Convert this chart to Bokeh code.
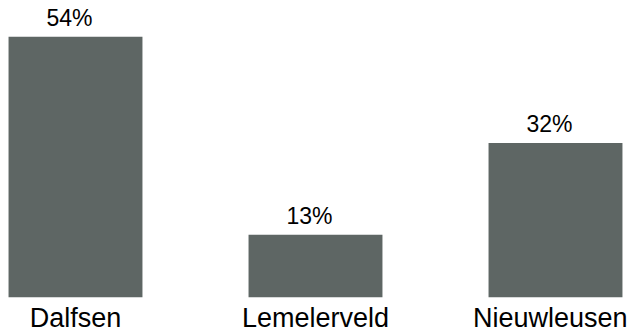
from bokeh.plotting import figure
from bokeh.models import ColumnDataSource, Range1d, LinearAxis, FixedTicker
from bokeh.core.properties import value
from bokeh.embed import file_html
from bokeh.resources import INLINE

categories = ["Dalfsen", "Lemelerveld", "Nieuwleusen"]
shares = [54, 13, 32]
labels = ["54%", "13%", "32%"]

xs = list(range(len(categories)))
src = ColumnDataSource(dict(x=xs, y=shares, label=labels))

p = figure(width=627, height=335, output_backend="svg", toolbar_location=None,
           x_range=Range1d(-0.3125, 2.3), y_range=Range1d(0, 61.5),
           x_axis_location=None, y_axis_location=None,
           min_border_left=0, min_border_right=0, min_border_top=0, min_border_bottom=38)
p.outline_line_color = None
p.xgrid.visible = False
p.ygrid.visible = False
p.background_fill_color = "white"
p.border_fill_color = "white"

p.vbar(x="x", top="y", bottom=0, width=0.558, source=src,
       fill_color="#5E6664", line_color=None)

p.text(x="x", y="y", text="label", source=src, text_align="center",
       text_baseline="bottom", y_offset=-6, x_offset=-6,
       text_font=value("Liberation Sans"), text_font_size="23px", text_color="#000000")

ax = LinearAxis(ticker=FixedTicker(ticks=xs),
                major_label_overrides={i: c for i, c in enumerate(categories)})
ax.axis_line_color = None
ax.major_tick_line_color = None
ax.minor_tick_line_color = None
ax.major_tick_in = 0
ax.major_tick_out = 0
ax.minor_tick_in = 0
ax.minor_tick_out = 0
ax.major_label_text_font = "Liberation Sans"
ax.major_label_text_font_size = "27px"
ax.major_label_text_color = "#000000"
ax.major_label_text_line_height = 1.0
ax.major_label_standoff = 5
p.add_layout(ax, "below")

open("out.html", "w").write(file_html(p, INLINE))
